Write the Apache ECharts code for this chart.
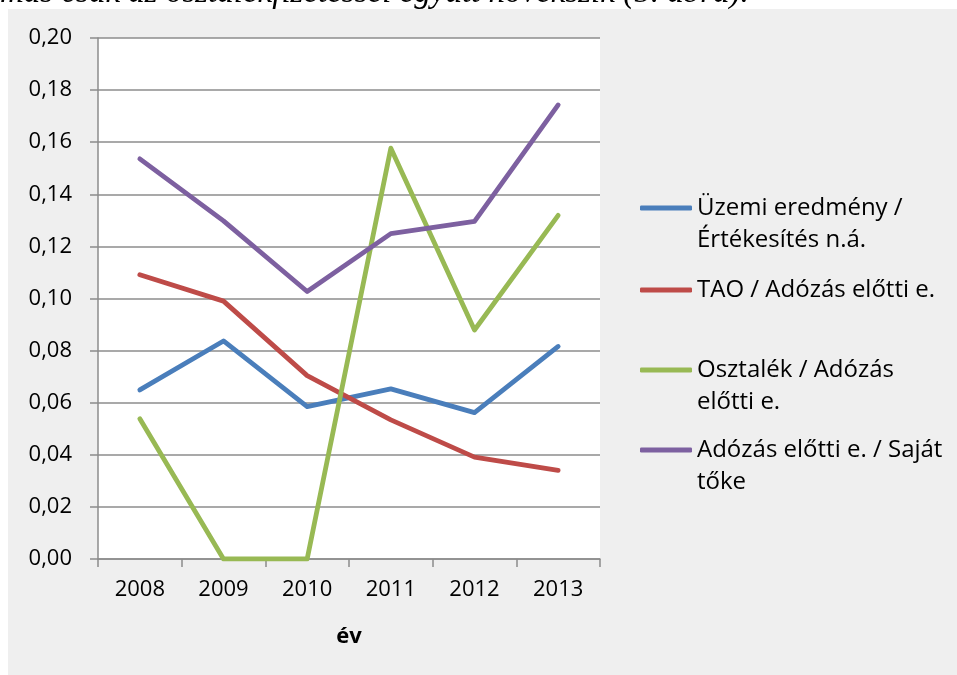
<!DOCTYPE html>
<html>
<head>
<meta charset="utf-8">
<script src="https://cdn.jsdelivr.net/npm/echarts@6/dist/echarts.min.js"></script>
<style>
html,body{margin:0;padding:0;background:#fff;}
#chart{width:957px;height:675px;}
</style>
</head>
<body>
<div id="chart"></div>
<script>
const years = ['2008','2009','2010','2011','2012','2013'];
const seriesNames = ['Üzemi eredmény /\nÉrtékesítés n.á.', 'TAO / Adózás előtti e.', 'Osztalék / Adózás\nelőtti e.', 'Adózás előtti e. / Saját\ntőke'];
const uzemi = [0.0649, 0.0837, 0.0585, 0.0653, 0.0562, 0.0816];
const tao = [0.1091, 0.0990, 0.0704, 0.0534, 0.0391, 0.0340];
const osztalek = [0.0538, 0, 0, 0.1577, 0.0879, 0.1319];
const adozas = [0.1536, 0.1298, 0.1027, 0.1249, 0.1296, 0.1743];
const yTicks = [0, 0.02, 0.04, 0.06, 0.08, 0.10, 0.12, 0.14, 0.16, 0.18, 0.20];
const colors = ['#4a7ebb', '#be4b48', '#98b954', '#7d60a0'];
const values = [uzemi, tao, osztalek, adozas];
const headText = 'mas csak az osztalékfizetéssel együtt növekszik (5. ábra).';

const FONT = 'Open Sans';
const chart = echarts.init(document.getElementById('chart'));

const legendCenters = [208, 290, 370, 450];
const legends = seriesNames.map((name, i) => {
  const multi = name.indexOf('\n') >= 0;
  return {
    show: true,
    orient: 'vertical',
    left: 640,
    padding: 0,
    top: multi ? legendCenters[i] - 48 : legendCenters[i] - 16,
    itemWidth: 52,
    itemHeight: 5,
    icon: 'roundRect',
    selectedMode: false,
    data: [name],
    formatter: n => (n.indexOf('\n') >= 0 ? ' \n' + n : n),
    textStyle: {
      fontFamily: FONT,
      fontSize: 24,
      lineHeight: 32,
      color: '#000'
    }
  };
});

chart.setOption({
  backgroundColor: 'transparent',
  animation: false,
  color: colors,
  graphic: [
    { type: 'rect', left: 8, top: 9, shape: { width: 949, height: 666 }, style: { fill: '#efefef' }, z: -10 },
    { type: 'text', x: 0, y: 10, style: { text: headText, font: 'italic 33px "Liberation Serif"', fill: '#000', verticalAlign: 'bottom' }, z: -5 }
  ],
  legend: legends,
  grid: {
    left: 98, right: 357, top: 38, bottom: 116,
    show: true, backgroundColor: '#ffffff', borderWidth: 0
  },
  xAxis: {
    type: 'category',
    data: years,
    boundaryGap: true,
    name: 'év',
    nameLocation: 'middle',
    nameGap: 67,
    nameTextStyle: { fontFamily: FONT, fontSize: 22, fontWeight: 'bold', color: '#000' },
    axisLine: { show: true, lineStyle: { color: '#8c8c8c', width: 1.5 } },
    axisTick: { show: true, alignWithLabel: false, length: 8, lineStyle: { color: '#8c8c8c', width: 1.5 } },
    axisLabel: { fontFamily: FONT, fontSize: 22, color: '#000', margin: 20 },
    splitLine: { show: false }
  },
  yAxis: {
    type: 'value',
    min: 0, max: 0.2, interval: 0.02,
    axisLine: { show: true, lineStyle: { color: '#8c8c8c', width: 1.5 } },
    axisTick: { show: true, length: 8, lineStyle: { color: '#8c8c8c', width: 1.5 } },
    axisLabel: {
      fontFamily: FONT, fontSize: 22, color: '#000', margin: 26,
      formatter: v => {
        const t = yTicks.find(k => Math.abs(k - v) < 1e-9);
        return (t !== undefined ? t : v).toFixed(2).replace('.', ',');
      }
    },
    splitLine: { show: true, lineStyle: { color: '#8c8c8c', width: 1.5 } }
  },
  series: values.map((vals, i) => ({
    name: seriesNames[i],
    type: 'line',
    data: vals,
    showSymbol: false,
    symbol: 'none',
    lineStyle: { width: 4.8, color: colors[i], cap: 'round', join: 'round' },
    itemStyle: { color: colors[i] }
  }))
});
</script>
</body>
</html>
